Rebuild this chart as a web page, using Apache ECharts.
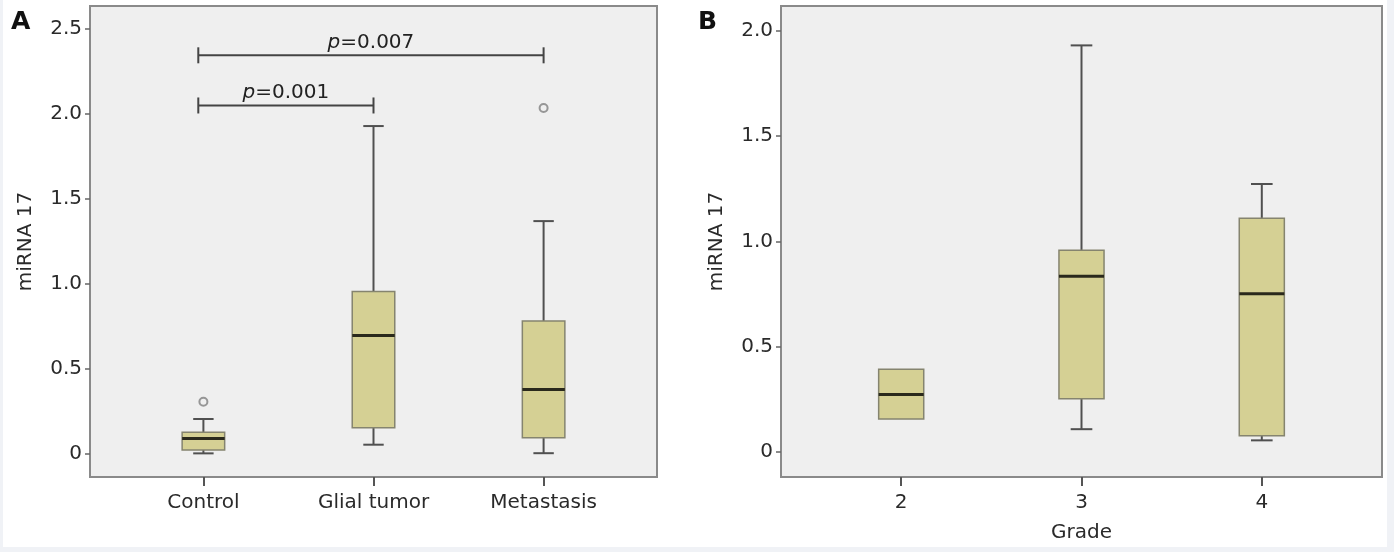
<!DOCTYPE html>
<html>
<head>
<meta charset="utf-8">
<script src="https://cdn.jsdelivr.net/npm/echarts@6/dist/echarts.min.js"></script>
<style>
  html, body { margin: 0; padding: 0; background: #f0f2f6; }
  #main { position: absolute; left: 3px; top: 0; width: 1384px; height: 547px; }
</style>
</head>
<body>
<div id="main"></div>
<script>
// panel A: groups
const groupsA = ['Control', 'Glial tumor', 'Metastasis'];
// [x, min, q1, median, q3, max]
const boxesA = [
  [1, 0.004, 0.024, 0.092, 0.128, 0.206],
  [2, 0.055, 0.154, 0.697, 0.956, 1.929],
  [3, 0.005, 0.096, 0.380, 0.782, 1.370]
];
const outliersA = [[1, 0.308], [3, 2.035]];
// [from, to, y, label]
const brackets = [
  [0.97, 2, 2.05, 'p=0.001'],
  [0.97, 3, 2.345, 'p=0.007']
];
const ticksA = [0, 0.5, 1, 1.5, 2, 2.5];

// panel B: tumour grade
const grades = ['2', '3', '4'];
const boxesB = [
  [2, 0.157, 0.157, 0.274, 0.394, 0.394],
  [3, 0.109, 0.254, 0.835, 0.958, 1.931],
  [4, 0.056, 0.078, 0.752, 1.110, 1.273]
];
const ticksB = [0, 0.5, 1, 1.5, 2];

const font = 'DejaVu Sans';
const HALF = 0.125;   // half box width, in category units
const CAP = 0.06;     // half whisker cap width

function renderBox(params, api) {
  const x = api.value(0);
  const lo = api.value(1), q1 = api.value(2), med = api.value(3), q3 = api.value(4), hi = api.value(5);
  const tl = api.coord([x - HALF, q3]);
  const br = api.coord([x + HALF, q1]);
  const children = [];
  const whisk = { stroke: '#505050', lineWidth: 2 };
  [[q3, hi], [q1, lo]].forEach(function (w) {
    if (w[0] === w[1]) return;
    const a = api.coord([x, w[0]]);
    const b = api.coord([x, w[1]]);
    const c1 = api.coord([x - CAP, w[1]]);
    const c2 = api.coord([x + CAP, w[1]]);
    children.push({ type: 'line', shape: { x1: a[0], y1: a[1], x2: b[0], y2: b[1] }, style: whisk });
    children.push({ type: 'line', shape: { x1: c1[0], y1: c1[1], x2: c2[0], y2: c2[1] }, style: whisk });
  });
  children.push({
    type: 'rect',
    shape: { x: tl[0], y: tl[1], width: br[0] - tl[0], height: br[1] - tl[1] },
    style: { fill: '#d5d094', stroke: '#85846f', lineWidth: 1.5 }
  });
  const m1 = api.coord([x - HALF, med]);
  const m2 = api.coord([x + HALF, med]);
  children.push({ type: 'line', shape: { x1: m1[0], y1: m1[1], x2: m2[0], y2: m2[1] }, style: { stroke: '#2a291c', lineWidth: 3 } });
  return { type: 'group', children: children };
}

function renderBracket(params, api) {
  const y = api.value(2);
  const a = api.coord([api.value(0), y]);
  const b = api.coord([api.value(1), y]);
  const st = { stroke: '#444', lineWidth: 2 };
  const label = brackets[params.dataIndex][3].replace('p=', '{i|p}=');
  return {
    type: 'group',
    children: [
      { type: 'line', shape: { x1: a[0], y1: a[1], x2: b[0], y2: b[1] }, style: st },
      { type: 'line', shape: { x1: a[0], y1: a[1] - 8, x2: a[0], y2: a[1] + 8 }, style: st },
      { type: 'line', shape: { x1: b[0], y1: b[1] - 8, x2: b[0], y2: b[1] + 8 }, style: st },
      {
        type: 'text',
        x: (a[0] + b[0]) / 2, y: a[1] - 3,
        style: {
          text: label, fill: '#222', font: '20px "' + font + '"',
          align: 'center', verticalAlign: 'bottom',
          rich: { i: { fontStyle: 'italic', fontSize: 20, fontFamily: font, fill: '#222' } }
        }
      }
    ]
  };
}

function xAxisFor(idx, names, min, max, axisName) {
  const vals = names.map(function (n, i) { return min + 2 / 3 + i; });
  return {
    type: 'value', gridIndex: idx, min: min, max: max, position: 'bottom',
    name: axisName, nameLocation: 'middle', nameGap: 46,
    nameTextStyle: { fontFamily: font, fontSize: 20, color: '#2a2a2a' },
    axisLine: { show: false, onZero: false },
    splitLine: { show: false },
    axisTick: { show: true, customValues: vals, length: 9, inside: false, lineStyle: { color: '#555', width: 2 } },
    axisLabel: {
      customValues: vals, margin: 16, fontFamily: font, fontSize: 20, color: '#2a2a2a',
      formatter: function (v) { return names[Math.round(v - vals[0])]; }
    }
  };
}

function yAxisFor(idx, ticks, min, max) {
  return {
    type: 'value', gridIndex: idx, min: min, max: max, position: 'left',
    name: 'miRNA 17', nameLocation: 'middle', nameGap: 54,
    nameTextStyle: { fontFamily: font, fontSize: 20, color: '#2a2a2a' },
    axisLine: { show: false, onZero: false },
    splitLine: { show: false },
    axisTick: { show: true, customValues: ticks, length: 5, lineStyle: { color: '#666', width: 1.5 } },
    axisLabel: {
      customValues: ticks, margin: 8, fontFamily: font, fontSize: 20, color: '#2a2a2a',
      formatter: function (v) { return v === 0 ? '0' : v.toFixed(1); }
    }
  };
}

const chart = echarts.init(document.getElementById('main'));
chart.setOption({
  backgroundColor: '#ffffff',
  animation: false,
  title: [
    { text: 'A', left: 3, top: 5, textStyle: { fontFamily: font, fontSize: 25, fontWeight: 'bold', color: '#111' } },
    { text: 'B', left: 690, top: 5, textStyle: { fontFamily: font, fontSize: 25, fontWeight: 'bold', color: '#111' } }
  ],
  grid: [
    { left: 87, top: 6, width: 567, height: 471, outerBoundsMode: 'none', show: true, backgroundColor: '#efefef', borderColor: '#8a8a8a', borderWidth: 2 },
    { left: 778, top: 6, width: 601, height: 471, outerBoundsMode: 'none', show: true, backgroundColor: '#efefef', borderColor: '#8a8a8a', borderWidth: 2 }
  ],
  xAxis: [
    xAxisFor(0, groupsA, 1 / 3, 11 / 3, ''),
    xAxisFor(1, grades, 4 / 3, 14 / 3, 'Grade')
  ],
  yAxis: [
    yAxisFor(0, ticksA, -0.135, 2.635),
    yAxisFor(1, ticksB, -0.118, 2.118)
  ],
  series: [
    {
      type: 'custom', xAxisIndex: 0, yAxisIndex: 0,
      renderItem: renderBox, data: boxesA,
      encode: { x: 0, y: [1, 2, 3, 4, 5] }
    },
    {
      type: 'scatter', xAxisIndex: 0, yAxisIndex: 0,
      data: outliersA, symbol: 'circle', symbolSize: 8,
      itemStyle: { color: '#efefef', borderColor: '#808080', borderWidth: 2 }
    },
    {
      type: 'custom', xAxisIndex: 0, yAxisIndex: 0,
      renderItem: renderBracket, data: brackets.map(function (b) { return b.slice(0, 3); }),
      encode: { x: [0, 1], y: 2 }
    },
    {
      type: 'custom', xAxisIndex: 1, yAxisIndex: 1,
      renderItem: renderBox, data: boxesB,
      encode: { x: 0, y: [1, 2, 3, 4, 5] }
    }
  ]
});
</script>
</body>
</html>
